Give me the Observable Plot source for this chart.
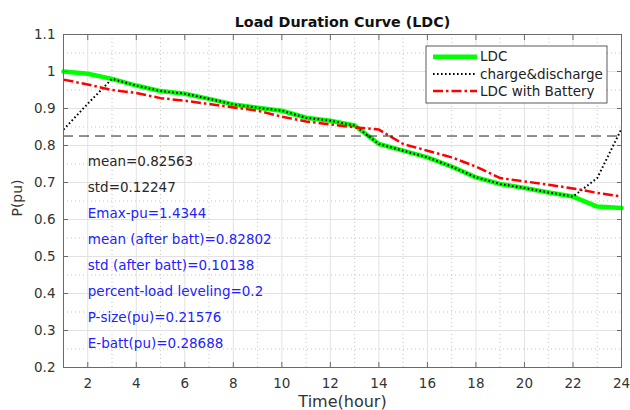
<!DOCTYPE html>
<html><head><meta charset="utf-8">
<script src="https://cdn.jsdelivr.net/npm/d3@7"></script>
<script src="https://cdn.jsdelivr.net/npm/@observablehq/plot@0.6"></script>
<style>body{margin:0;background:#fff}</style>
</head><body><div id="chart"></div>
<script>
// ---- data ----
const hours = [1,2,3,4,5,6,7,8,9,10,11,12,13,14,15,16,17,18,19,20,21,22,23,24];
const ldc = [1.000,0.994,0.980,0.962,0.947,0.940,0.926,0.911,0.902,0.894,0.875,0.867,0.854,0.804,0.786,0.768,0.743,0.714,0.696,0.685,0.673,0.662,0.635,0.631];
const chargeDischarge = [0.843,0.913,0.980,0.962,0.947,0.940,0.926,0.911,0.902,0.894,0.875,0.867,0.854,0.804,0.786,0.768,0.743,0.714,0.696,0.685,0.673,0.662,0.712,0.845];
const ldcBattery = [0.978,0.965,0.950,0.942,0.928,0.921,0.912,0.903,0.894,0.878,0.865,0.857,0.849,0.843,0.804,0.786,0.768,0.743,0.712,0.703,0.694,0.684,0.672,0.662];
const meanValue = 0.82563;
const xTicks = [2,4,6,8,10,12,14,16,18,20,22,24];
const yTicks = [0.2,0.3,0.4,0.5,0.6,0.7,0.8,0.9,1.0,1.1];
const xMinor = [1,3,5,7,9,11,13,15,17,19,21,23];
const yMinor = [0.25,0.35,0.45,0.55,0.65,0.75,0.85,0.95,1.05];
const annotations = ["mean=0.82563","std=0.12247","Emax-pu=1.4344","mean (after batt)=0.82802","std (after batt)=0.10138","percent-load leveling=0.2","P-size(pu)=0.21576","E-batt(pu)=0.28688"];
const seriesNames = ["LDC","charge&discharge","LDC with Battery"];
const titleText = "Load Duration Curve (LDC)";
const xLabel = "Time(hour)";
const yLabel = "P(pu)";

// ---- chart ----
const rows = hours.map((h,i)=>({h, ldc: ldc[i], cd: chargeDischarge[i], bat: ldcBattery[i]}));
const FONT = "DejaVu Sans, sans-serif";
const fmtY = d => (Math.abs(d-1) < 1e-9 ? "1" : d3.format(".1f")(d));
const DOT = "1.6,2.4";
const DASHDOT = "10,3,2.5,3";

const plot = Plot.plot({
  width: 630, height: 410,
  marginLeft: 63, marginRight: 9, marginTop: 34, marginBottom: 43,
  style: {fontFamily: FONT, background: "white", overflow: "visible", color: "#333"},
  x: {domain: [1,24]},
  y: {domain: [0.2,1.1]},
  color: {type: "identity"},
  marks: [
    Plot.ruleX(xMinor, {stroke: "#b8b8b8", strokeDasharray: "1,3", strokeWidth: 0.8}),
    Plot.ruleY(yMinor, {stroke: "#b8b8b8", strokeDasharray: "1,3", strokeWidth: 0.8}),
    Plot.ruleX(xTicks, {stroke: "#e2e2e2", strokeWidth: 1}),
    Plot.ruleY(yTicks, {stroke: "#e2e2e2", strokeWidth: 1}),
    Plot.line(rows, {x: "h", y: "ldc", stroke: "#00ff00", strokeWidth: 4.5}),
    Plot.line(rows, {x: "h", y: "cd", stroke: "#000", strokeWidth: 2, strokeDasharray: DOT, strokeLinecap: "butt", strokeLinejoin: "miter"}),
    Plot.line(rows, {x: "h", y: "bat", stroke: "#ff0000", strokeWidth: 2.5, strokeDasharray: DASHDOT, strokeLinecap: "butt"}),
    Plot.ruleY([meanValue], {stroke: "#222", strokeWidth: 1, strokeDasharray: "10,6"}),
    Plot.text(annotations, {x: () => 2, y: (d,i) => 0.755 - 0.07*i, text: d => d, textAnchor: "start",
      fill: (d,i) => i < 2 ? "#262626" : "#2222ff", fontSize: 13.5}),
    Plot.frame({stroke: "#6a6a6a", strokeWidth: 1}),
    Plot.axisX({ticks: xTicks, anchor: "bottom", tickSize: -5, tickFormat: () => "", stroke: "#6a6a6a", label: null}),
    Plot.axisX({ticks: xTicks, anchor: "top", tickSize: -5, tickFormat: () => "", stroke: "#6a6a6a", label: null}),
    Plot.axisY({ticks: yTicks, anchor: "left", tickSize: -5, tickFormat: () => "", stroke: "#6a6a6a", label: null}),
    Plot.axisY({ticks: yTicks, anchor: "right", tickSize: -5, tickFormat: () => "", stroke: "#6a6a6a", label: null}),
    Plot.axisX({ticks: xTicks, anchor: "bottom", tickSize: 0, tickPadding: 11, fontSize: 13.5, label: null, fill: "#333"}),
    Plot.axisY({ticks: yTicks, anchor: "left", tickSize: 0, tickPadding: 8, fontSize: 13.5, label: null, tickFormat: fmtY, fill: "#333"}),
    Plot.text([titleText], {frameAnchor: "top", lineAnchor: "middle", textAnchor: "middle", dy: -12.5, fontWeight: "bold", fontSize: 14.3, fill: "#111"}),
    Plot.text([xLabel], {frameAnchor: "bottom", lineAnchor: "middle", textAnchor: "middle", dy: 34.7, fontSize: 16, fill: "#333"}),
    Plot.text([yLabel], {frameAnchor: "left", lineAnchor: "middle", textAnchor: "middle", dx: -46.3, dy: -3, rotate: -90, fontSize: 14, fill: "#333"})
  ]
});

// ---- legend ----
const svg = d3.select(plot);
const lg = svg.append("g").attr("class", "legend").attr("text-anchor", "start");
lg.append("rect").attr("x", 426).attr("y", 46).attr("width", 181).attr("height", 57)
  .attr("fill", "white").attr("stroke", "#333").attr("stroke-width", 0.8);
const styles = [
  {stroke: "#00ff00", width: 4.5, dash: null},
  {stroke: "#000", width: 2, dash: DOT},
  {stroke: "#ff0000", width: 2.5, dash: DASHDOT}
];
seriesNames.forEach((name, i) => {
  const y = 56.7 + i * 17.2;
  const s = styles[i];
  lg.append("line").attr("x1", 433).attr("x2", 477).attr("y1", y).attr("y2", y)
    .attr("stroke", s.stroke).attr("stroke-width", s.width).attr("stroke-dasharray", s.dash);
  lg.append("text").attr("x", 480).attr("y", y).attr("dy", "0.35em").attr("text-anchor", "start")
    .attr("font-family", FONT).attr("font-size", 13.5).attr("fill", "#222").text(name);
});

document.getElementById("chart").appendChild(plot);
</script>
</body></html>
